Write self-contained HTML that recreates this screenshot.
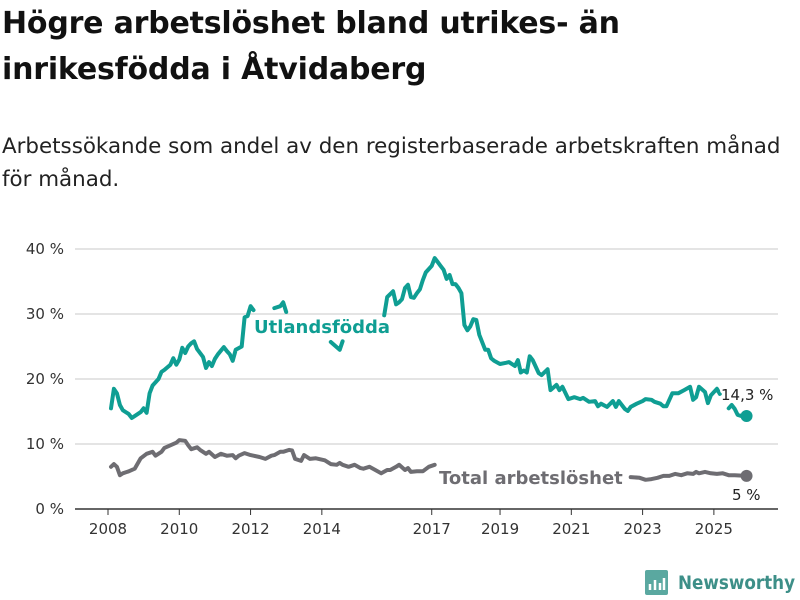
<!DOCTYPE html>
<html><head><meta charset="utf-8">
<style>
body{margin:0;width:800px;height:600px;background:#fff;font-family:"Liberation Sans","DejaVu Sans",sans-serif;overflow:hidden}
#title{position:absolute;left:2px;top:1px;font-size:30px;font-weight:bold;line-height:46px;color:#111;font-family:"DejaVu Sans",sans-serif;letter-spacing:-0.2px;white-space:nowrap}
#sub{position:absolute;left:2px;top:130px;font-size:21.4px;line-height:33px;color:#222;font-family:"DejaVu Sans",sans-serif;white-space:nowrap}
svg{position:absolute;left:0;top:0}
</style></head><body>
<div id="title">Högre arbetslöshet bland utrikes- än<br>inrikesfödda i Åtvidaberg</div>
<div id="sub">Arbetssökande som andel av den registerbaserade arbetskraften månad<br>för månad.</div>
<svg id="chart" width="800" height="600"></svg>
<script>
const yTicks=[0,10,20,30,40];
const xYears=[2008,2010,2012,2014,2017,2019,2021,2023,2025];
// months since Jan 2008, null = break
const uMonths=[1,2,3,4,5,7,8,9,11,12,13,14,15,17,18,19,21,22,23,24,25,26,27,28,29,30,32,33,34,35,36,37,39,40,41,42,43,45,46,47,48,49,null,56,58,59,60,null,75,78,79,null,93,94,96,97,98,99,100,101,102,103,104,105,106,107,109,110,111,112,113,114,115,116,117,118,119,120,121,122,123,124,125,127,128,129,130,132,134,135,137,138,139,140,141,142,143,145,146,148,149,151,152,153,155,157,159,160,162,164,165,166,168,170,171,172,174,175,176,178,180,181,183,184,186,187,188,190,191,192,194,196,197,198,199,201,202,203,205,206,null,209,210,211,212,214,215];
const uValues=[15.5,18.5,17.8,16.0,15.2,14.6,14.0,14.3,14.9,15.5,14.8,17.8,19.0,20.0,21.1,21.4,22.2,23.2,22.2,23.0,24.8,24.0,25.0,25.5,25.8,24.6,23.4,21.7,22.6,22.0,23.1,23.8,24.9,24.3,23.8,22.8,24.5,25.0,29.5,29.7,31.2,30.6,null,30.9,31.2,31.8,30.3,null,25.7,24.5,25.8,null,29.8,32.6,33.5,31.5,31.8,32.3,34.0,34.5,32.6,32.5,33.2,33.8,35.2,36.4,37.4,38.6,38.0,37.4,36.8,35.4,36.0,34.6,34.6,34.0,33.2,28.3,27.5,28.1,29.2,29.1,26.8,24.5,24.5,23.2,22.8,22.3,22.5,22.6,22.0,22.9,21.0,21.3,21.0,23.5,22.9,20.9,20.6,21.5,18.3,19.1,18.3,18.8,16.9,17.2,16.9,17.1,16.5,16.6,15.8,16.2,15.7,16.6,15.7,16.6,15.4,15.1,15.7,16.2,16.6,16.9,16.8,16.5,16.2,15.8,15.8,17.8,17.8,17.8,18.3,18.8,16.8,17.2,18.8,18.0,16.3,17.5,18.5,17.7,null,15.5,16.0,15.4,14.5,14.2,14.3];
const tMonths=[1,2,3,4,5,7,9,11,13,15,16,18,19,21,23,24,26,27,28,30,31,33,34,36,38,40,42,43,44,46,48,49,51,53,55,56,58,59,61,62,63,65,66,68,70,73,75,77,78,79,81,83,85,86,88,90,92,94,95,97,98,100,101,102,104,106,108,110,null,176,179,181,183,185,187,189,191,193,195,197,198,199,201,203,205,207,209,211,215];
const tValues=[6.5,6.9,6.5,5.2,5.5,5.8,6.2,7.8,8.5,8.8,8.2,8.8,9.4,9.8,10.2,10.6,10.5,9.8,9.2,9.5,9.1,8.5,8.8,8.0,8.5,8.2,8.3,7.8,8.2,8.6,8.3,8.2,8.0,7.7,8.2,8.3,8.8,8.8,9.1,9.0,7.7,7.4,8.3,7.7,7.8,7.5,6.9,6.8,7.1,6.8,6.5,6.8,6.3,6.2,6.5,6.0,5.5,6.0,6.0,6.5,6.8,6.0,6.3,5.7,5.8,5.8,6.5,6.8,null,4.9,4.8,4.5,4.6,4.8,5.1,5.1,5.4,5.2,5.5,5.4,5.7,5.5,5.7,5.5,5.4,5.5,5.2,5.2,5.1];

const NS="http://www.w3.org/2000/svg";
const svg=document.getElementById('chart');
const xs=m=>108+m*2.97;
const ys=v=>509-v*6.5;
function mk(tag,attrs,parent){const e=document.createElementNS(NS,tag);for(const k in attrs)e.setAttribute(k,attrs[k]);(parent||svg).appendChild(e);return e;}

yTicks.forEach(t=>{
  if(t>0){const g=mk('line',{x1:75,x2:778,y1:ys(t),y2:ys(t),stroke:'#dcdcdc','stroke-width':1.5});
  
  }
  const l=mk('text',{x:64,y:ys(t)+5,'text-anchor':'end','font-size':15,fill:'#333','font-family':'DejaVu Sans, sans-serif'});
  l.textContent=t+' %';
  
  
});
const ax=mk('line',{x1:75,x2:778,y1:509,y2:509,stroke:'#333','stroke-width':1.5});


xYears.forEach(y=>{
  const x=xs((y-2008)*12+(y===2017?1:0));
  const tk=mk('line',{x1:x,x2:x,y1:509,y2:515,stroke:'#333','stroke-width':1});
  
  
  const l=mk('text',{x:x,y:534,'text-anchor':'middle','font-size':15,fill:'#333','font-family':'DejaVu Sans, sans-serif'});
  l.textContent=y;
  
  
});
function pathD(ms,vs){let d='',pen=false;for(let i=0;i<ms.length;i++){if(ms[i]===null||vs[i]===null){pen=false;continue;}d+=(pen?'L':'M')+xs(ms[i]).toFixed(1)+','+ys(vs[i]).toFixed(1);pen=true;}return d;}
const tl=mk('path',{d:pathD(tMonths,tValues),fill:'none',stroke:'#6e6d72','stroke-width':4,'stroke-linejoin':'round','stroke-linecap':'round'});


const ul=mk('path',{d:pathD(uMonths,uValues),fill:'none',stroke:'#0f9e93','stroke-width':4,'stroke-linejoin':'round','stroke-linecap':'round'});


const lu=uMonths[uMonths.length-1],lv=uValues[uValues.length-1];
const du=mk('circle',{cx:xs(lu),cy:ys(lv),r:6,fill:'#0f9e93'});


const lt=tMonths[tMonths.length-1],ltv=tValues[tValues.length-1];
const dt=mk('circle',{cx:xs(lt),cy:ys(ltv),r:6,fill:'#6e6d72'});


function lab(txt,x,y,opts,name){const t=mk('text',Object.assign({x:x,y:y,'font-family':'DejaVu Sans, sans-serif',stroke:'#fff','stroke-width':5,'paint-order':'stroke','stroke-linejoin':'round'},opts));t.textContent=txt;

}
lab('Utlandsfödda',254,333,{'font-size':18,'font-weight':'bold',fill:'#0f9e93'},'utlandsfodda-label');
lab('Total arbetslöshet',439,484,{'font-size':18,'font-weight':'bold',fill:'#6e6d72'},'total-label');
lab('14,3 %',721,400,{'font-size':15,fill:'#222'},'utlandsfodda-value-label');
lab('5 %',732,500,{'font-size':15,fill:'#222'},'total-value-label');
// logo
const lg=mk('g',{});


mk('rect',{x:645,y:570,width:23,height:25,rx:2,fill:'#5aa8a0'},lg);
mk('path',{d:'M650,590 v-6 M655,590 v-10 M660,590 v-7 M664,590 v-12',stroke:'#fff','stroke-width':2.5},lg);
const lt2=mk('text',{x:678,y:589,'font-size':19,'font-weight':'bold',fill:'#3d8f88','font-family':'DejaVu Sans, sans-serif',textLength:117,lengthAdjust:'spacingAndGlyphs'},lg);
lt2.textContent='Newsworthy';
</script>
</body></html>
